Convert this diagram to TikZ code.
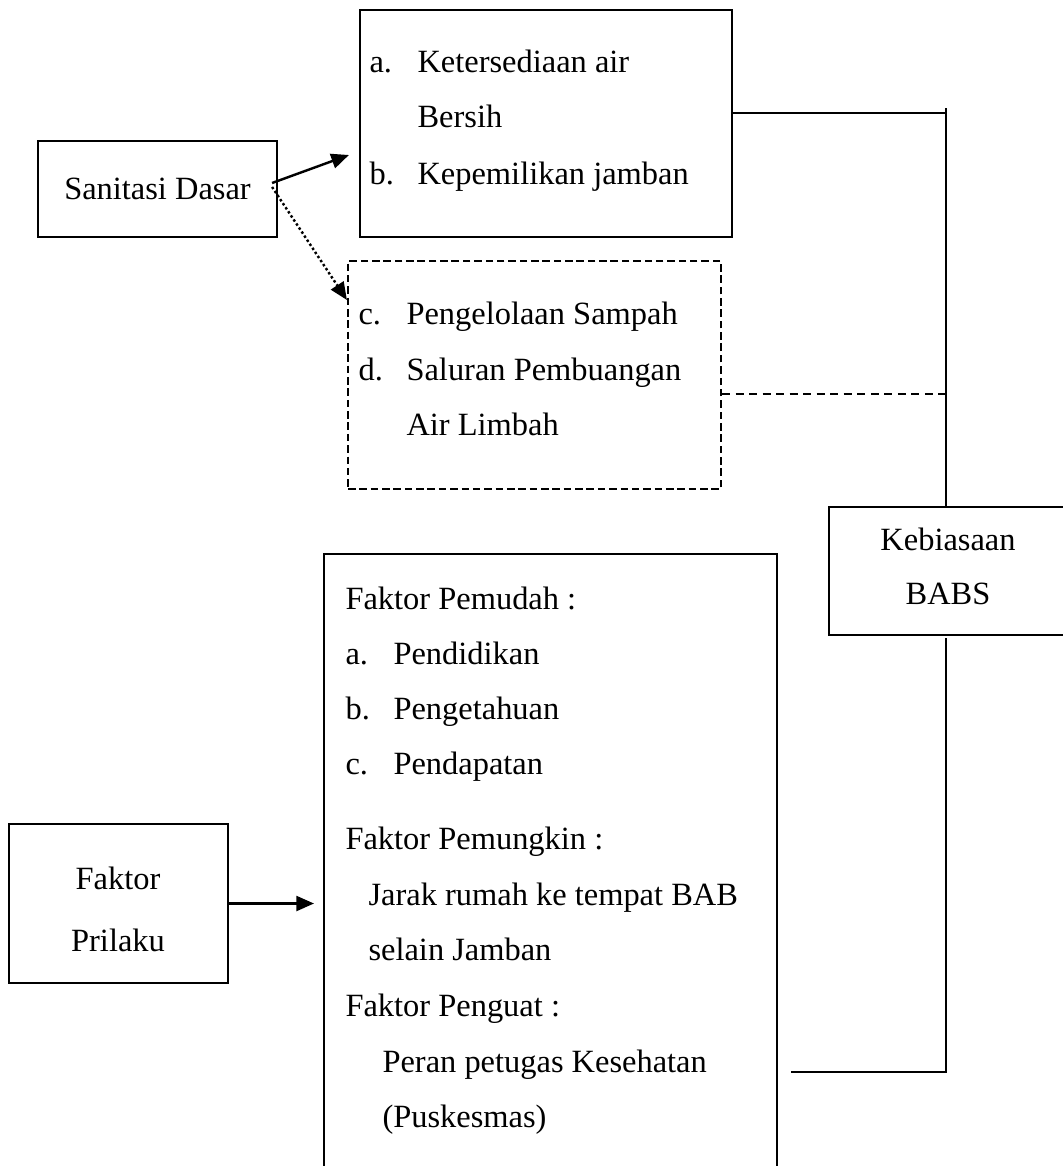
\documentclass[tikz,border=0pt]{standalone}
\usepackage{fontspec}
\setmainfont{Liberation Serif}
\usetikzlibrary{arrows.meta}

\tikzset{
    kotak/.style={draw, line width=0.8pt, inner sep=0pt},
    teks/.style={anchor=base west, inner sep=0pt, yshift=-1pt, font=\fontsize{12}{14}\selectfont},
    tekstengah/.style={anchor=base, inner sep=0pt, yshift=-1pt, font=\fontsize{12}{14}\selectfont},
    garis/.style={line width=0.45pt}
}

\begin{document}
\begin{tikzpicture}[x=0.013cm, y=-0.013cm]
        \useasboundingbox (0, 0) rectangle (1063, 1166);
        \clip (0, 0) rectangle (1063, 1166);

        % kotak-kotak
        \node[kotak, minimum width=3.107cm, minimum height=1.248cm, font=\fontsize{12}{14}\selectfont] (sanitasi) at (157.5, 189) {\raisebox{-1pt}{Sanitasi Dasar}};
        \node[kotak, minimum width=4.836cm, minimum height=2.951cm] (air) at (546, 123.5) {};
        \node[kotak, dash pattern=on 2.8pt off 1.4pt, minimum width=4.849cm, minimum height=2.964cm] (sampah) at (534.5, 375) {};
        \node[kotak, minimum width=3.198cm, minimum height=1.664cm] (babs) at (952, 571) {};
        \node[kotak, minimum width=2.847cm, minimum height=2.067cm] (prilaku) at (118.5, 903.5) {};
        \node[kotak, minimum width=5.889cm, minimum height=8.398cm] (faktor) at (550.5, 877) {};

        % isi kotak air
        \node[teks] (aAir) at (369, 70) {a.};
        \node[teks] (tAir) at (417, 70) {Ketersediaan air};
        \node[teks] (tBersih) at (417, 125) {Bersih};
        \node[teks] (bJamban) at (369, 182) {b.};
        \node[teks] (tJamban) at (417, 182) {Kepemilikan jamban};

        % isi kotak sampah
        \node[teks] (cSampah) at (358, 322) {c.};
        \node[teks] (tSampah) at (406, 322) {Pengelolaan Sampah};
        \node[teks] (dSaluran) at (358, 378) {d.};
        \node[teks] (tSaluran) at (406, 378) {Saluran Pembuangan};
        \node[teks] (tLimbah) at (406, 433) {Air Limbah};

        % isi kotak faktor
        \node[teks] (tPemudah) at (345, 607) {Faktor Pemudah :};
        \node[teks] (aPendidikan) at (345, 662) {a.};
        \node[teks] (tPendidikan) at (393, 662) {Pendidikan};
        \node[teks] (bPengetahuan) at (345, 717) {b.};
        \node[teks] (tPengetahuan) at (393, 717) {Pengetahuan};
        \node[teks] (cPendapatan) at (345, 772) {c.};
        \node[teks] (tPendapatan) at (393, 772) {Pendapatan};
        \node[teks] (tPemungkin) at (345, 847) {Faktor Pemungkin :};
        \node[teks] (tJarak) at (368, 903) {Jarak rumah ke tempat BAB};
        \node[teks] (tSelain) at (368, 958) {selain Jamban};
        \node[teks] (tPenguat) at (345, 1014) {Faktor Penguat :};
        \node[teks] (tPeran) at (382, 1070) {Peran petugas Kesehatan};
        \node[teks] (tPuskesmas) at (382, 1125) {(Puskesmas)};

        % teks tengah
        \node[tekstengah] (tFaktor) at (118, 887) {Faktor};
        \node[tekstengah] (tPrilaku) at (118, 949) {Prilaku};
        \node[tekstengah] (tKebiasaan) at (948, 548) {Kebiasaan};
        \node[tekstengah] (tBabs) at (948, 602) {BABS};

        % garis ke BABS
        \coordinate (jalurAtas) at (946, 108);
        \coordinate (cabangAir) at (946, 113);
        \coordinate (jalurTengah) at (946, 394);
        \coordinate (jalurBawah) at (946, 1072);
        \coordinate (ujungFaktor) at (791, 1072);
        \coordinate (panahPrilaku) at (314, 903.5);

        \draw[garis] (air.east |- cabangAir) -- (cabangAir);
        \draw[garis] (jalurAtas) -- (babs.north -| jalurAtas);
        \draw[garis, dash pattern=on 3pt off 2pt] (sampah.east |- jalurTengah) -- (jalurTengah);
        \draw[garis] ([yshift=-0.8pt]babs.south -| jalurBawah) -- (jalurBawah) -- (ujungFaktor);

        % panah
        \draw[line width=0.9pt, -{Triangle[length=6.5pt, width=5.5pt]}] ([shift={(-6, -6)}]sanitasi.east) -- ([shift={(-10, 31.5)}]air.west);
        \draw[line width=0.9pt, dash pattern=on 0.9pt off 0.9pt, -{Triangle[length=6.5pt, width=5.5pt]}] ([shift={(-6, -2)}]sanitasi.east) -- ([shift={(0, -75)}]sampah.west);
        \draw[line width=0.9pt, -{Triangle[length=6.5pt, width=5.5pt]}] (prilaku.east) -- (panahPrilaku);
    \end{tikzpicture}
\end{document}
